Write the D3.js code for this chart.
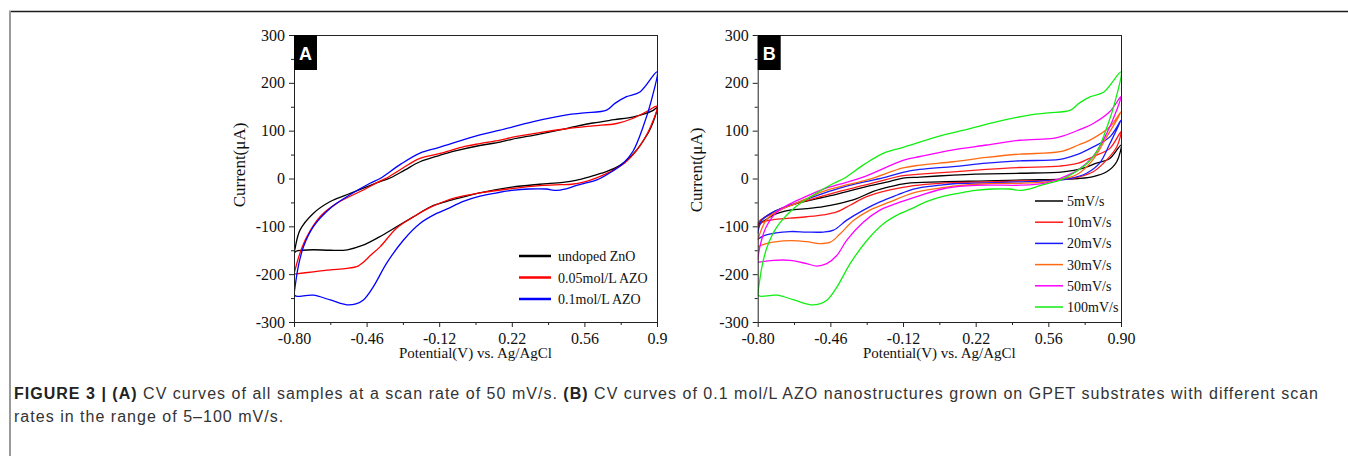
<!DOCTYPE html>
<html>
<head><meta charset="utf-8"><title>Figure 3 - CV curves</title></head>
<body>
<style>
  body { margin:0; background:#fff; }
  svg text { font-family: "Liberation Serif", "Times New Roman", serif; }
  .caption { font-family: "Liberation Sans", Arial, Helvetica, sans-serif; fill:#333; }
</style>

<svg id="fig" width="1348" height="456"></svg>

<script src="https://d3js.org/d3.v7.min.js"></script>
<script>

// ---- tick labels ----
const xTickValues = [-0.8, -0.46, -0.12, 0.22, 0.56, 0.9];
const xMinorValues = [-0.63, -0.29, 0.05, 0.39, 0.73];
const xLabelsA = ["-0.80", "-0.46", "-0.12", "0.22", "0.56", "0.9"];
const xLabelsB = ["-0.80", "-0.46", "-0.12", "0.22", "0.56", "0.90"];
const yTicks = [300, 200, 100, 0, -100, -200, -300];
const yMinor = [250, 150, 50, -50, -150, -250];

// ---- panel A: all samples at 50 mV/s, [potential (V), current (uA)] ----
// forward scan -0.8 -> 0.9, then reverse scan back to -0.8
const undopedZnO = [
  [-0.80,-157],[-0.79,-152],[-0.76,-150],[-0.71,-149],[-0.63,-150],[-0.55,-149],[-0.48,-140],[-0.40,-122],
  [-0.32,-101],[-0.24,-80],[-0.16,-59],[-0.085,-48],[0.0,-38],[0.07,-30],[0.22,-18],[0.35,-12],[0.46,-8],
  [0.52,-4],[0.58,3],[0.64,11],[0.70,21],[0.75,35],[0.80,57],[0.84,82],[0.87,105],[0.90,148],
  [0.88,142],[0.79,129],[0.70,123],[0.60,116],[0.48,105],[0.35,93],[0.22,82],[0.165,76],[0.07,69],
  [-0.05,57],[-0.12,48],[-0.21,35],[-0.28,18],[-0.35,1],[-0.40,-7],[-0.475,-20],[-0.553,-34],[-0.63,-48],
  [-0.71,-73],[-0.772,-108],[-0.795,-146],[-0.80,-157]
];
const azo005 = [
  [-0.80,-200],[-0.71,-195],[-0.63,-191],[-0.553,-188],[-0.50,-183],[-0.475,-175],[-0.44,-160],[-0.397,-143],
  [-0.32,-104],[-0.24,-80],[-0.16,-60],[-0.085,-46],[0.0,-36],[0.07,-30],[0.22,-21],[0.35,-15],[0.45,-13],
  [0.50,-12],[0.56,-7],[0.62,2],[0.68,14],[0.75,33],[0.80,56],[0.84,82],[0.87,108],[0.90,151],
  [0.852,140],[0.789,126],[0.711,115],[0.60,110],[0.477,104],[0.35,96],[0.22,86],[0.165,80],[0.071,73],
  [0.0,67],[-0.12,52],[-0.21,42],[-0.29,22],[-0.366,1],[-0.40,-6],[-0.475,-24],[-0.60,-52],[-0.678,-80],
  [-0.74,-122],[-0.772,-156],[-0.795,-191],[-0.80,-200]
];
const azo01 = [
  [-0.80,-243],[-0.79,-246],[-0.71,-244],[-0.63,-254],[-0.553,-264],[-0.51,-262],[-0.475,-254],[-0.428,-226],
  [-0.366,-177],[-0.288,-129],[-0.21,-94],[-0.132,-73],[-0.085,-64],[-0.007,-48],[0.071,-37],[0.15,-30],
  [0.22,-25],[0.30,-22],[0.38,-22],[0.43,-25],[0.47,-22],[0.52,-15],[0.56,-10],[0.618,-3],[0.68,12],
  [0.742,32],[0.789,58],[0.835,108],[0.874,164],[0.90,223],
  [0.82,181],[0.757,171],[0.703,157],[0.664,143],[0.56,137],[0.477,133],[0.321,119],[0.165,101],[0.071,91],
  [-0.12,65],[-0.21,53],[-0.30,30],[-0.397,0],[-0.444,-10],[-0.553,-38],[-0.63,-62],[-0.71,-101],
  [-0.756,-143],[-0.78,-184],[-0.795,-226],[-0.80,-243]
];
const namesA = ["undoped ZnO", "0.05mol/L AZO", "0.1mol/L AZO"];
const colorsA = ["#000000", "#ff0000", "#0000ff"];

// ---- panel B: 0.1 mol/L AZO at different scan rates ----
const scan5 = [
  [-0.80,-97],[-0.76,-86],[-0.727,-76],[-0.649,-66],[-0.571,-63],[-0.493,-59],[-0.415,-52],[-0.337,-42],
  [-0.259,-27],[-0.181,-17],[-0.103,-10],[0.053,-7],[0.27,-5],[0.45,-3],[0.60,-2],[0.70,0],[0.77,4],
  [0.833,14],[0.88,35],[0.90,70],
  [0.848,42],[0.785,32],[0.72,21],[0.63,14],[0.43,11],[0.22,9],[0.115,7],[-0.041,3],[-0.12,1],[-0.181,-6],
  [-0.30,-18],[-0.46,-36],[-0.649,-56],[-0.727,-70],[-0.77,-82],[-0.80,-94]
];
const scan10 = [
  [-0.80,-104],[-0.78,-92],[-0.727,-86],[-0.649,-83],[-0.571,-80],[-0.493,-76],[-0.43,-70],[-0.368,-56],
  [-0.29,-38],[-0.181,-24],[-0.071,-15],[0.053,-10],[0.27,-7],[0.43,-5],[0.61,-3],[0.70,3],[0.77,14],
  [0.833,39],[0.88,66],[0.90,98],
  [0.848,63],[0.77,46],[0.70,32],[0.614,26],[0.427,23],[0.271,19],[0.115,14],[-0.041,9],[-0.12,6],
  [-0.30,-14],[-0.46,-32],[-0.649,-57],[-0.727,-73],[-0.79,-88],[-0.80,-101]
];
const scan20 = [
  [-0.80,-127],[-0.76,-118],[-0.649,-111],[-0.571,-112],[-0.493,-112],[-0.445,-108],[-0.383,-87],[-0.305,-66],
  [-0.228,-49],[-0.15,-35],[-0.071,-22],[0.053,-14],[0.115,-11],[0.271,-9],[0.427,-7],[0.583,-4],[0.661,0],
  [0.739,11],[0.80,32],[0.848,73],[0.90,122],
  [0.848,87],[0.77,66],[0.70,51],[0.614,40],[0.427,37],[0.271,32],[0.115,25],[-0.041,19],[-0.12,13],
  [-0.2,3],[-0.30,-7],[-0.40,-18],[-0.493,-31],[-0.649,-56],[-0.727,-70],[-0.78,-87],[-0.80,-115]
];
const scan30 = [
  [-0.80,-143],[-0.76,-136],[-0.649,-130],[-0.571,-132],[-0.51,-136],[-0.46,-133],[-0.415,-116],[-0.352,-88],
  [-0.275,-66],[-0.181,-49],[-0.071,-30],[0.053,-20],[0.115,-16],[0.271,-11],[0.427,-10],[0.552,-7],
  [0.63,-1],[0.70,10],[0.77,40],[0.833,87],[0.88,122],[0.90,140],
  [0.848,108],[0.77,84],[0.70,70],[0.614,56],[0.427,51],[0.271,44],[0.115,35],[-0.041,28],[-0.12,22],
  [-0.28,-2],[-0.415,-17],[-0.493,-27],[-0.571,-42],[-0.649,-57],[-0.70,-66],[-0.76,-87],[-0.80,-129]
];
const scan50 = [
  [-0.80,-175],[-0.727,-171],[-0.649,-171],[-0.571,-178],[-0.524,-183],[-0.477,-178],[-0.43,-161],[-0.383,-129],
  [-0.305,-91],[-0.228,-66],[-0.15,-52],[-0.071,-40],[0.053,-23],[0.115,-18],[0.271,-14],[0.427,-14],
  [0.54,-10],[0.614,0],[0.70,18],[0.77,46],[0.833,94],[0.88,143],[0.90,171],
  [0.848,140],[0.77,115],[0.70,101],[0.63,89],[0.583,84],[0.427,80],[0.271,70],[0.115,60],[-0.041,46],
  [-0.12,38],[-0.30,4],[-0.415,-12],[-0.493,-22],[-0.571,-37],[-0.649,-53],[-0.71,-70],[-0.76,-101],
  [-0.79,-143],[-0.80,-170]
];
const scan100 = [
  [-0.80,-243],[-0.79,-246],[-0.71,-244],[-0.63,-254],[-0.553,-264],[-0.51,-262],[-0.475,-254],[-0.428,-226],
  [-0.366,-177],[-0.288,-129],[-0.21,-94],[-0.132,-73],[-0.085,-64],[-0.007,-48],[0.071,-37],[0.15,-30],
  [0.22,-25],[0.30,-22],[0.38,-22],[0.43,-25],[0.47,-22],[0.52,-15],[0.56,-10],[0.618,-3],[0.68,12],
  [0.742,32],[0.789,58],[0.835,108],[0.874,164],[0.90,223],
  [0.82,181],[0.757,171],[0.703,157],[0.664,143],[0.56,137],[0.477,133],[0.321,119],[0.165,101],[0.071,91],
  [-0.12,65],[-0.21,53],[-0.30,30],[-0.397,0],[-0.444,-10],[-0.553,-38],[-0.63,-62],[-0.71,-101],
  [-0.756,-143],[-0.78,-184],[-0.795,-226],[-0.80,-243]
];
const namesB = ["5mV/s", "10mV/s", "20mV/s", "30mV/s", "50mV/s", "100mV/s"];
const colorsB = ["#000000", "#ff1a1a", "#1a1aff", "#ff6a13", "#ff00ff", "#11ee11"];

const W = 1348, H = 456;
const svg = d3.select('#fig');

function translate(x, y) { return 'translate(' + x + ',' + y + ')'; }

// outer figure frame (top rule + grey left rule)
svg.append('line').attr('x1', 9).attr('x2', W).attr('y1', 11.5).attr('y2', 11.5)
  .attr('stroke', '#1e1e1e').attr('stroke-width', 1.5);
svg.append('line').attr('x1', 10).attr('x2', 10).attr('y1', 11).attr('y2', H)
  .attr('stroke', '#9a9a9a').attr('stroke-width', 2);

function drawPanel(p) {
  let x = d3.scaleLinear().domain([-0.8, 0.9]).range([p.left, p.left + p.width]);
  let y = d3.scaleLinear().domain([-300, 300]).range([p.top + p.height, p.top]);
  let root = svg.append('g');

  let clipId = 'clip' + p.letter;
  root.append('clipPath').attr('id', clipId).append('rect')
    .attr('x', p.left).attr('y', p.top - 1).attr('width', p.width + 1).attr('height', p.height + 2);

  let line = d3.line()
    .x(d => x(d[0]))
    .y(d => y(d[1]))
    .curve(d3.curveCatmullRom.alpha(0.5));

  root.append('g').attr('clip-path', 'url(#' + clipId + ')')
    .selectAll('path')
    .data(p.series)
    .join('path')
      .attr('d', line)
      .attr('fill', 'none')
      .attr('stroke', (d, i) => p.colors[i])
      .attr('stroke-width', 1.3)
      .attr('stroke-linejoin', 'round');

  // axes
  let bottom = p.top + p.height;
  root.append('g').attr('transform', translate(0, bottom))
    .call(d3.axisBottom(x).tickValues(xTickValues).tickSize(5).tickSizeOuter(0).tickPadding(6)
      .tickFormat((d, i) => p.xLabels[i]));
  root.append('g').attr('transform', translate(0, bottom))
    .call(d3.axisBottom(x).tickValues(xMinorValues).tickSize(3).tickFormat(''));
  root.append('g').attr('transform', translate(p.left, 0))
    .call(d3.axisLeft(y).tickValues(yTicks).tickSize(5).tickSizeOuter(0).tickPadding(4)
      .tickFormat(d => String(d)));
  root.append('g').attr('transform', translate(p.left, 0))
    .call(d3.axisLeft(y).tickValues(yMinor).tickSize(3).tickFormat(''));

  root.selectAll('.domain').remove();
  root.selectAll('.tick line').attr('stroke', '#222');
  root.selectAll('.tick text')
    .attr('fill', '#111')
    .style('font-family', '"Liberation Serif", "Times New Roman", serif')
    .style('font-size', '16px');

  // frame
  root.append('rect')
    .attr('x', p.left + 0.5).attr('y', p.top + 0.5)
    .attr('width', p.width).attr('height', p.height)
    .attr('fill', 'none').attr('stroke', '#222').attr('stroke-width', 1);

  // panel letter
  root.append('rect').attr('x', p.left).attr('y', p.top).attr('width', 23).attr('height', 35).attr('fill', '#000');
  root.append('text')
    .attr('x', p.left + 11.5).attr('y', p.top + 25)
    .attr('text-anchor', 'middle')
    .style('font-family', '"Liberation Sans", Arial, sans-serif')
    .style('font-weight', 'bold').style('font-size', '18px')
    .attr('fill', '#fff')
    .text(p.letter);

  // axis titles
  root.append('text')
    .attr('x', p.left + p.width / 2).attr('y', 358)
    .attr('text-anchor', 'middle')
    .style('font-size', '15px').attr('fill', '#111')
    .text('Potential(V) vs. Ag/AgCl');
  root.append('text')
    .attr('transform', translate(p.yTitleX, p.yTitleY) + ' rotate(-90)')
    .attr('text-anchor', 'middle')
    .style('font-size', '17px').attr('fill', '#111')
    .text('Current(\u03bcA)');

  // legend
  let lg = p.legend;
  p.names.forEach((name, i) => {
    let ly = lg.y + i * lg.step;
    root.append('line')
      .attr('x1', lg.x).attr('x2', lg.x + lg.len).attr('y1', ly).attr('y2', ly)
      .attr('stroke', p.colors[i]).attr('stroke-width', lg.width);
    root.append('text')
      .attr('x', lg.x + lg.len + lg.gap).attr('y', ly + 5)
      .style('font-size', '14px').attr('fill', '#111')
      .text(name);
  });
}

drawPanel({
  letter: 'A', left: 294, top: 35, width: 363, height: 287,
  xLabels: xLabelsA,
  series: [undopedZnO, azo005, azo01], names: namesA, colors: colorsA,
  yTitleX: 245, yTitleY: 165,
  legend: { x: 519, y: 256, step: 21.5, len: 32, gap: 7, width: 2.5 }
});

drawPanel({
  letter: 'B', left: 757.7, top: 35, width: 363.3, height: 287,
  xLabels: xLabelsB,
  series: [scan5, scan10, scan20, scan30, scan50, scan100], names: namesB, colors: colorsB,
  yTitleX: 702, yTitleY: 170,
  legend: { x: 1035, y: 201, step: 21.2, len: 28, gap: 4, width: 1.5 }
});

// caption
let cap1 = svg.append('text').attr('class', 'caption').attr('x', 14).attr('y', 399).style('font-size', '16px');
cap1.append('tspan').style('font-weight', 'bold').attr('fill', '#222').text('FIGURE 3 | (A)');
cap1.append('tspan').text(' CV curves of all samples at a scan rate of 50 mV/s. ');
cap1.append('tspan').style('font-weight', 'bold').attr('fill', '#222').text('(B)');
cap1.append('tspan').text(' CV curves of 0.1 mol/L AZO nanostructures grown on GPET substrates with different scan');

let cap2 = svg.append('text').attr('class', 'caption').attr('x', 14).attr('y', 422).style('font-size', '16px')
  .text('rates in the range of 5\u2013100 mV/s.');

// nudge the letter spacing so the first line spans the same width as the original
let n1 = cap1.text().length;
let spacing = (1304 - cap1.node().getComputedTextLength()) / (n1 - 1);
cap1.style('letter-spacing', spacing + 'px');
cap2.style('letter-spacing', spacing + 'px');

</script>
</body>
</html>
